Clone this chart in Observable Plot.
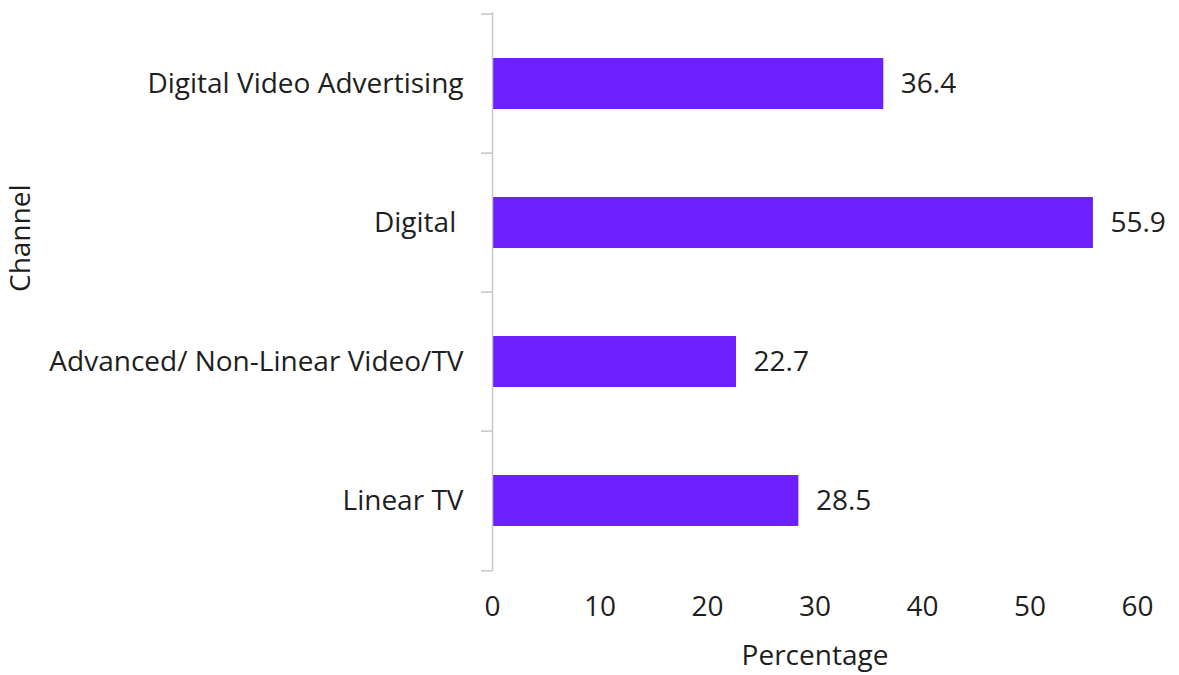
<!DOCTYPE html>
<html>
<head>
<meta charset="utf-8">
<script src="https://cdn.jsdelivr.net/npm/d3@7"></script>
<script src="https://cdn.jsdelivr.net/npm/@observablehq/plot@0.6"></script>
<style>
  html, body { margin: 0; padding: 0; background: #ffffff; }
  #chart { width: 1179px; height: 675px; }
</style>
</head>
<body>
<div id="chart"></div>
<script>
const categories = ["Digital Video Advertising", "Digital\u00a0", "Advanced/ Non-Linear Video/TV", "Linear TV"];
const values = [36.4, 55.9, 22.7, 28.5];
const xTicks = [0, 10, 20, 30, 40, 50, 60];
const xTitle = "Percentage";
const yTitle = "Channel";

const data = categories.map((c, i) => ({channel: c, value: values[i]}));

const W = 1179, H = 675;
const mL = 492, mR = 42, mT = 12, mB = 104;
const step = (H - mT - mB) / categories.length;
const axisGray = "#c6c6c6";
const textColor = "#1e1e1e";
const fs = 28;

const chart = Plot.plot({
  width: W,
  height: H,
  marginLeft: mL,
  marginRight: mR,
  marginTop: mT,
  marginBottom: mB,
  style: {fontFamily: "Open Sans", fontSize: fs + "px", color: textColor, background: "#ffffff"},
  x: {domain: [0, 60], label: null},
  y: {domain: categories, paddingInner: 0.636, paddingOuter: 0.318, label: null},
  marks: [
    Plot.barX(data, {x: "value", y: "channel", fill: "#6c1fff"}),
    Plot.ruleX([0], {stroke: axisGray, strokeWidth: 1.5}),
    Plot.axisY(categories, {tickSize: 11, dy: -step / 2, stroke: axisGray, strokeWidth: 1.5, tickFormat: () => "", label: null}),
    Plot.axisY([categories[categories.length - 1]], {tickSize: 11, dy: step / 2, stroke: axisGray, strokeWidth: 1.5, tickFormat: () => "", label: null}),
    Plot.axisY(categories, {tickSize: 0, tickPadding: 29, fontSize: fs, fill: textColor, label: null}),
    Plot.axisX(xTicks, {tickSize: 0, tickPadding: 25, fontSize: fs, fill: textColor, label: null}),
    Plot.text(data, {x: "value", y: "channel", text: d => d.value.toFixed(1), dx: 17, textAnchor: "start", fontSize: fs, fill: textColor}),
    Plot.text([xTitle], {frameAnchor: "bottom", dy: 93, fontSize: fs, fill: textColor}),
    Plot.text([yTitle], {frameAnchor: "left", rotate: -90, dx: -471, fontSize: fs, fill: textColor})
  ]
});
document.getElementById("chart").appendChild(chart);
</script>
</body>
</html>
